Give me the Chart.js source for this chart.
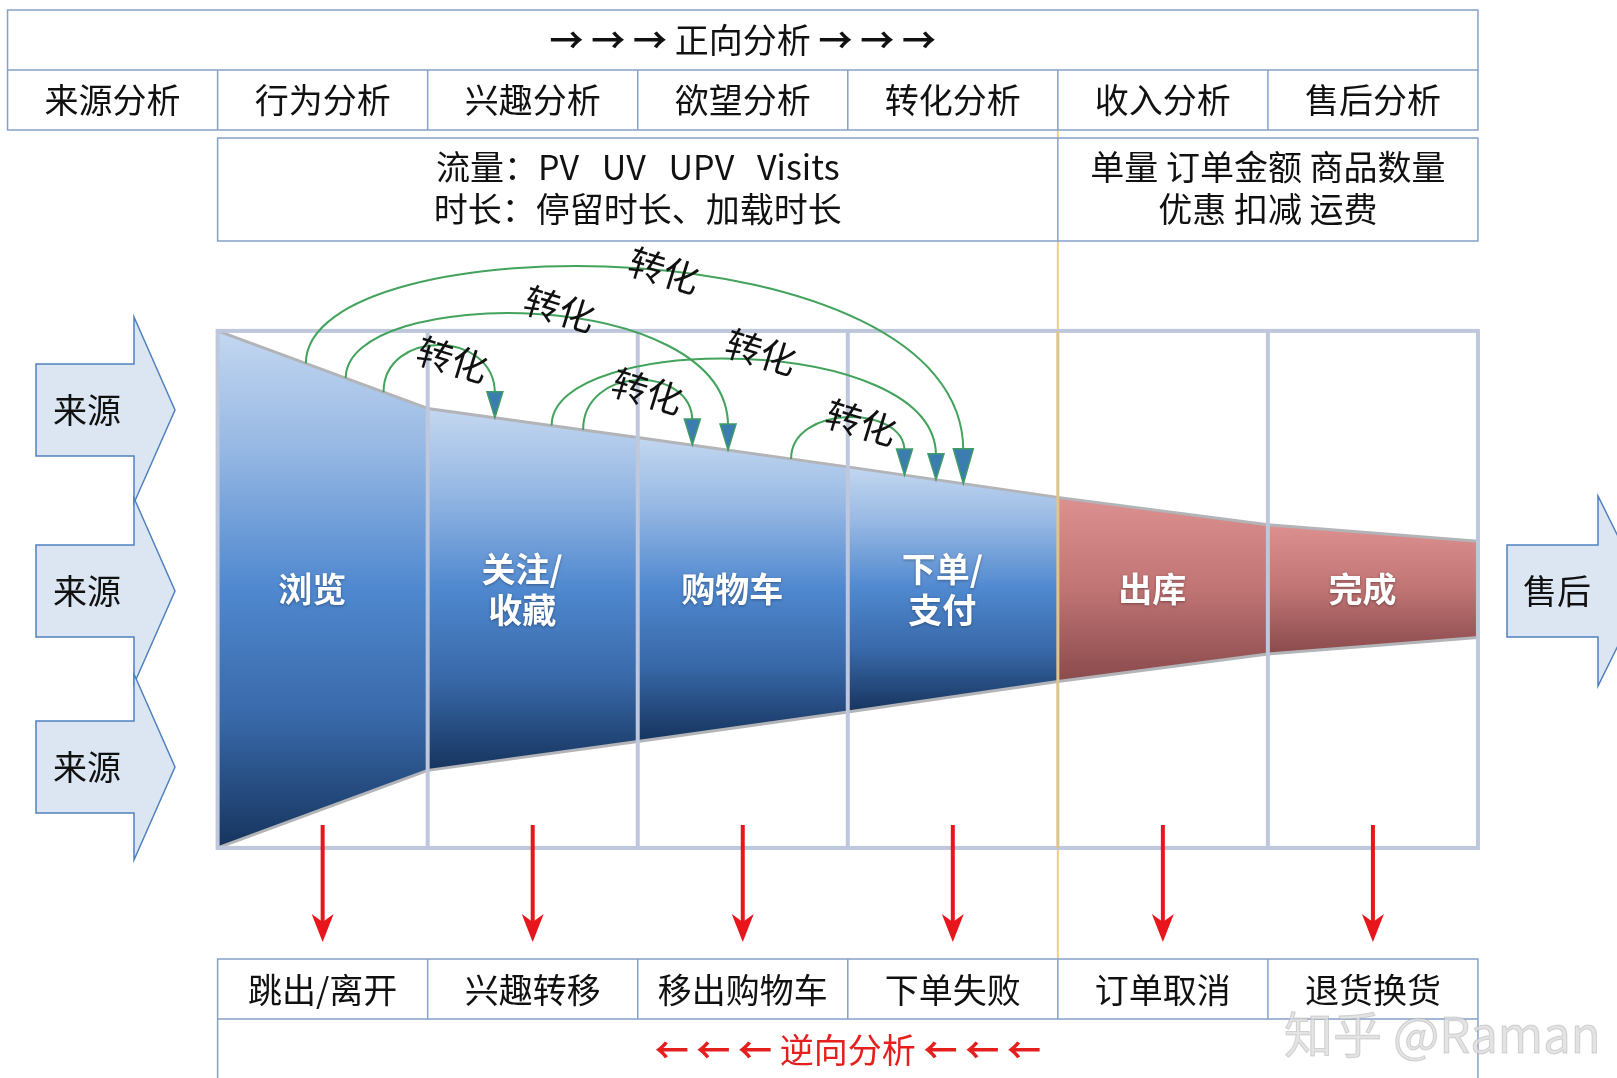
<!DOCTYPE html>
<html>
<head>
<meta charset="utf-8">
<script src="https://cdn.jsdelivr.net/npm/chart.js@4/dist/chart.umd.min.js"></script>
<style>
html, body { margin: 0; padding: 0; background: #fff; }
canvas { display: block; }
</style>
</head>
<body>
<canvas id="FunnelChart" width="1617" height="1078"></canvas>
<script>
// funnel stages, left to right
const stageLabels = [['浏览'], ['关注/', '收藏'], ['购物车'], ['下单/', '支付'], ['出库'], ['完成']];
const stageColor = ['blue', 'blue', 'blue', 'blue', 'red', 'red'];
// relative width of the funnel at each stage boundary (first = 100)
const funnelWidth = [100, 70, 58.8, 47.4, 35.6, 25, 18.6];

const analysisLabels = ['来源分析', '行为分析', '兴趣分析', '欲望分析', '转化分析', '收入分析', '售后分析'];
const lossLabels = ['跳出/离开', '兴趣转移', '移出购物车', '下单失败', '订单取消', '退货换货'];
const metricLines = [
    ['流量：PV   UV   UPV   Visits', '时长：停留时长、加载时长'],
    ['单量 订单金额 商品数量', '优惠 扣减 运费']
];
const forwardTitle = ['→ → → ', '正向分析', ' → → →'];
const reverseTitle = ['← ← ← ', '逆向分析', ' ← ← ←'];
const sourceLabels = ['来源', '来源', '来源'];
const afterLabel = '售后';
// conversion links [from stage, to stage]
const conversions = [[0, 3], [0, 2], [0, 1], [1, 3], [1, 2], [2, 3]];
const conversionLabel = '转化';

// layout (pixels / stage fractions), kept apart from the data
const FONT = '"Noto Sans CJK SC", "Noto Sans", sans-serif';
const arcLayout = [
    { from: 0.42, to: 0.55, peak: 268, head: 35, w: 20, t: 0.53, dy: 0 },
    { from: 0.61, to: 0.43, peak: 314, head: 26, w: 16, t: 0.54, dy: -7 },
    { from: 0.79, to: 0.32, peak: 345, head: 26, w: 16, t: 0.58, dy: 13 },
    { from: 0.59, to: 0.42, peak: 359, head: 26, w: 16, t: 0.53, dy: -8 },
    { from: 0.74, to: 0.26, peak: 380, head: 26, w: 16, t: 0.56, dy: 11 },
    { from: 0.73, to: 0.27, peak: 417, head: 26, w: 16, t: 0.58, dy: 5 }
];
const rows = {
    top: [10, 70, 130],
    metric: [138, 241], metricText: [167, 209],
    drop: [825, 942],
    loss: [959, 1019], lossText: 990, reverseText: 1050
};
const sourceArrows = { centers: [410, 591, 767], body: 46, head: 93, x0: 36, neck: 134, tip: 175, textX: 87 };
const afterArrow = { center: 591, body: 46, head: 95, x0: 1507, neck: 1598, tip: 1645, textX: 1557 };

const blueStops = [[0, '#c3d7f0'], [0.22, '#98b9e4'], [0.5, '#4f88cf'], [0.75, '#3868a8'], [1, '#16345e']];
const redStops = [[0, '#dc9090'], [0.5, '#c07474'], [1, '#8a4a4c']];

function topEdge(stage, frac) {
    return (funnelWidth[stage] + (funnelWidth[stage + 1] - funnelWidth[stage]) * frac) / 2;
}

function stageFill(chart, i) {
    const y = chart.scales.y;
    const fallback = stageColor[i] === 'blue' ? '#4f88cf' : '#c07474';
    if (!chart.chartArea || !y) return fallback;
    const hi = Math.max(funnelWidth[i], funnelWidth[i + 1]) / 2;
    const y0 = y.getPixelForValue(hi), y1 = y.getPixelForValue(-hi);
    if (!isFinite(y0) || !isFinite(y1)) return fallback;
    const g = chart.ctx.createLinearGradient(0, y0, 0, y1);
    (stageColor[i] === 'blue' ? blueStops : redStops).forEach(s => g.addColorStop(s[0], s[1]));
    return g;
}

const datasets = [];
stageLabels.forEach((lab, i) => {
    const topIndex = datasets.length;
    datasets.push({
        label: lab.join('') + ' top',
        data: [{ x: i, y: funnelWidth[i] / 2 }, { x: i + 1, y: funnelWidth[i + 1] / 2 }],
        borderColor: '#b2b4b8',
        borderWidth: 3,
        pointRadius: 0,
        fill: false
    });
    datasets.push({
        label: lab.join('') + ' bottom',
        data: [{ x: i, y: -funnelWidth[i] / 2 }, { x: i + 1, y: -funnelWidth[i + 1] / 2 }],
        borderColor: '#b2b4b8',
        borderWidth: 3,
        pointRadius: 0,
        fill: { target: topIndex },
        backgroundColor: ctx => stageFill(ctx.chart, i)
    });
});

function arrowDown(ctx, x, tipY, w, h, notch) {
    ctx.beginPath();
    ctx.moveTo(x, tipY);
    ctx.lineTo(x - w / 2, tipY - h);
    ctx.lineTo(x, tipY - h + notch);
    ctx.lineTo(x + w / 2, tipY - h);
    ctx.closePath();
}

function blockArrow(ctx, a, cy) {
    ctx.beginPath();
    ctx.moveTo(a.x0, cy - a.body);
    ctx.lineTo(a.neck, cy - a.body);
    ctx.lineTo(a.neck, cy - a.head);
    ctx.lineTo(a.tip, cy);
    ctx.lineTo(a.neck, cy + a.head);
    ctx.lineTo(a.neck, cy + a.body);
    ctx.lineTo(a.x0, cy + a.body);
    ctx.closePath();
    ctx.fillStyle = '#dce6f2';
    ctx.fill();
    ctx.lineWidth = 1.5;
    ctx.strokeStyle = '#4f81bd';
    ctx.stroke();
}

function text(ctx, str, x, y, size, color, weight) {
    ctx.font = (weight || 'normal') + ' ' + size + 'px ' + FONT;
    ctx.fillStyle = color;
    ctx.textAlign = 'center';
    ctx.textBaseline = 'middle';
    ctx.fillText(str, x, y);
}

// arrows bold, words regular, whole line centred on x
function titleLine(ctx, parts, x, y, color) {
    const fonts = parts.map((p, k) => (k === 1 ? 'normal' : 'bold') + ' 34px ' + FONT);
    const widths = parts.map((p, k) => { ctx.font = fonts[k]; return ctx.measureText(p).width; });
    let cx = x - widths.reduce((a, b) => a + b, 0) / 2;
    ctx.textAlign = 'left';
    ctx.textBaseline = 'middle';
    ctx.fillStyle = color;
    parts.forEach((p, k) => {
        ctx.font = fonts[k];
        ctx.fillText(p, cx, y);
        cx += widths[k];
    });
}

const decorations = {
    id: 'decorations',
    beforeDatasetsDraw(chart) {
        const ctx = chart.ctx;
        const X = v => chart.scales.x.getPixelForValue(v);
        // divider between forward flow and revenue/after-sales
        ctx.save();
        ctx.strokeStyle = '#ecd07c';
        ctx.lineWidth = 2;
        ctx.beginPath();
        ctx.moveTo(X(4), rows.top[2]);
        ctx.lineTo(X(4), rows.loss[0]);
        ctx.stroke();
        ctx.restore();
    },
    afterDatasetsDraw(chart) {
        const ctx = chart.ctx;
        const X = v => chart.scales.x.getPixelForValue(v);
        const Y = v => chart.scales.y.getPixelForValue(v);
        const gTop = Y(funnelWidth[0] / 2), gBot = Y(-funnelWidth[0] / 2);
        ctx.save();

        // funnel grid
        ctx.lineWidth = 4;
        ctx.strokeStyle = '#bec7dc';
        ctx.strokeRect(X(0), gTop, X(6) - X(0), gBot - gTop);
        for (let i = 1; i < 6; i++) {
            ctx.strokeStyle = i === 4 ? '#dcc58f' : '#bec7dc';
            ctx.lineWidth = i === 4 ? 3 : 4;
            ctx.beginPath();
            ctx.moveTo(X(i), gTop);
            ctx.lineTo(X(i), gBot);
            ctx.stroke();
        }

        // stage labels
        ctx.shadowColor = 'rgba(0,0,0,0.35)';
        ctx.shadowBlur = 3;
        ctx.shadowOffsetY = 1;
        stageLabels.forEach((lab, i) => {
            const cx = X(i + 0.45);
            const cy = Y(0);
            lab.forEach((line, k) => {
                text(ctx, line, cx, cy + (k - (lab.length - 1) / 2) * 41, 34, '#ffffff', 'bold');
            });
        });
        ctx.shadowColor = 'transparent';

        // conversion arcs
        conversions.forEach(([s, t], k) => {
            const a = arcLayout[k];
            const x0 = X(s + a.from), y0 = Y(topEdge(s, a.from));
            const x1 = X(t + a.to), y1 = Y(topEdge(t, a.to));
            const yb = y1 - a.head + 2;
            const c = (a.peak - 0.125 * (y0 + yb)) / 0.75;
            ctx.strokeStyle = '#43a35c';
            ctx.lineWidth = 2;
            ctx.beginPath();
            ctx.moveTo(x0, y0);
            ctx.bezierCurveTo(x0, c, x1, c, x1, yb);
            ctx.stroke();
            arrowDown(ctx, x1, y1, a.w, a.head, 0);
            ctx.fillStyle = '#3b7db0';
            ctx.fill();
            ctx.strokeStyle = '#3f9c66';
            ctx.lineWidth = 1.5;
            ctx.stroke();
            // label on the arc
            const tt = a.t, u = 1 - tt;
            const lx = u * u * u * x0 + 3 * u * u * tt * x0 + 3 * u * tt * tt * x1 + tt * tt * tt * x1;
            const ly = u * u * u * y0 + 3 * u * u * tt * c + 3 * u * tt * tt * c + tt * tt * tt * yb;
            ctx.save();
            ctx.translate(lx, ly + a.dy);
            ctx.rotate(17 * Math.PI / 180);
            text(ctx, conversionLabel, 0, 0, 36, '#111111');
            ctx.restore();
        });

        // drop-off arrows
        for (let i = 0; i < 6; i++) {
            const x = X(i + 0.5);
            ctx.strokeStyle = '#e8161c';
            ctx.lineWidth = 4;
            ctx.beginPath();
            ctx.moveTo(x, rows.drop[0]);
            ctx.lineTo(x, rows.drop[1] - 16);
            ctx.stroke();
            arrowDown(ctx, x, rows.drop[1], 22, 28, 8);
            ctx.fillStyle = '#e8161c';
            ctx.fill();
        }

        // tables
        ctx.lineWidth = 1.5;
        ctx.strokeStyle = '#86a0c9';
        ctx.fillStyle = '#ffffff';
        // forward analysis table
        ctx.fillRect(X(-1), rows.top[0], X(6) - X(-1), rows.top[2] - rows.top[0]);
        ctx.strokeRect(X(-1), rows.top[0], X(6) - X(-1), rows.top[2] - rows.top[0]);
        ctx.beginPath();
        ctx.moveTo(X(-1), rows.top[1]);
        ctx.lineTo(X(6), rows.top[1]);
        for (let i = 0; i < 6; i++) {
            ctx.moveTo(X(i), rows.top[1]);
            ctx.lineTo(X(i), rows.top[2]);
        }
        ctx.stroke();
        titleLine(ctx, forwardTitle, X(2.5), (rows.top[0] + rows.top[1]) / 2, '#111111');
        analysisLabels.forEach((lab, i) => {
            text(ctx, lab, X(i - 0.5), (rows.top[1] + rows.top[2]) / 2, 34, '#111111');
        });
        // metrics box
        ctx.fillStyle = '#ffffff';
        ctx.fillRect(X(0), rows.metric[0], X(6) - X(0), rows.metric[1] - rows.metric[0]);
        ctx.strokeRect(X(0), rows.metric[0], X(6) - X(0), rows.metric[1] - rows.metric[0]);
        ctx.beginPath();
        ctx.moveTo(X(4), rows.metric[0]);
        ctx.lineTo(X(4), rows.metric[1]);
        ctx.stroke();
        metricLines[0].forEach((l, k) => text(ctx, l, X(2), rows.metricText[k], 34, '#111111'));
        metricLines[1].forEach((l, k) => text(ctx, l, X(5), rows.metricText[k], 34, '#111111'));
        // reverse analysis table
        ctx.fillStyle = '#ffffff';
        ctx.fillRect(X(0), rows.loss[0], X(6) - X(0), 200);
        ctx.strokeRect(X(0), rows.loss[0], X(6) - X(0), 200);
        ctx.beginPath();
        ctx.moveTo(X(0), rows.loss[1]);
        ctx.lineTo(X(6), rows.loss[1]);
        for (let i = 1; i < 6; i++) {
            ctx.moveTo(X(i), rows.loss[0]);
            ctx.lineTo(X(i), rows.loss[1]);
        }
        ctx.stroke();
        lossLabels.forEach((lab, i) => text(ctx, lab, X(i + 0.5), rows.lossText, 34, '#111111'));
        titleLine(ctx, reverseTitle, X(3), rows.reverseText, '#e51e1e');

        // source arrows and after-sales arrow
        sourceArrows.centers.forEach((cy, i) => {
            blockArrow(ctx, sourceArrows, cy);
            text(ctx, sourceLabels[i], sourceArrows.textX, cy, 34, '#111111');
        });
        blockArrow(ctx, afterArrow, afterArrow.center);
        text(ctx, afterLabel, afterArrow.textX, afterArrow.center, 34, '#111111');

        // watermark
        ctx.font = '49px ' + FONT;
        ctx.textAlign = 'left';
        ctx.textBaseline = 'middle';
        ctx.fillStyle = 'rgba(220,220,220,0.8)';
        ctx.strokeStyle = 'rgba(150,150,150,0.35)';
        ctx.lineWidth = 1;
        ctx.fillText('知乎 @Raman', 1284, 1034);
        ctx.strokeText('知乎 @Raman', 1284, 1034);
        ctx.restore();
    }
};

const config = {
    type: 'line',
    data: { datasets: datasets },
    options: {
        responsive: false,
        animation: false,
        devicePixelRatio: 1,
        layout: { padding: 0 },
        scales: {
            x: { type: 'linear', display: false, min: -1.036, max: 6.662 },
            y: { type: 'linear', display: false, min: -94.5, max: 114.0 }
        },
        plugins: {
            legend: { display: false },
            tooltip: { enabled: false }
        }
    },
    plugins: [decorations]
};
new Chart(document.getElementById('FunnelChart'), config);
</script>
</body>
</html>
